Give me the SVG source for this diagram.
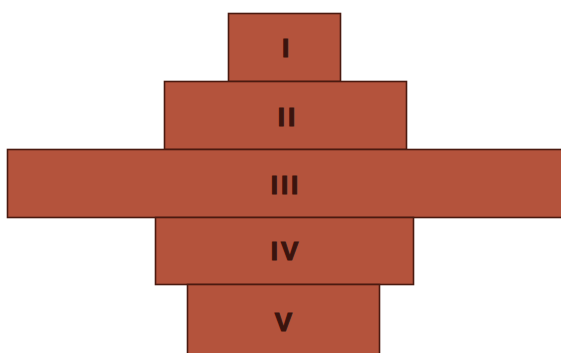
<svg xmlns="http://www.w3.org/2000/svg" width="561" height="353" viewBox="0 0 561 353">
<style>
.box{fill:#b4533c;stroke:#4a1a10;stroke-width:1.6}
.lbl{font-family:"Liberation Sans",Arial,sans-serif;font-weight:bold;font-size:26px;fill:#3a140e;stroke:#3a140e;stroke-width:1.1;text-anchor:middle;letter-spacing:3px}
</style>
<rect width="561" height="353" fill="#ffffff"/>
<g id="node-I"><rect class="box" x="228.5" y="13.5" width="112" height="68"/><text class="lbl" x="287" y="56.5">I</text></g>
<g id="node-II"><rect class="box" x="164.5" y="81.5" width="242" height="68"/><text class="lbl" x="288" y="125.5">II</text></g>
<g id="node-III"><rect class="box" x="7.5" y="149.5" width="560" height="68"/><text class="lbl" x="286" y="193.5">III</text></g>
<g id="node-IV"><rect class="box" x="155.5" y="217.5" width="258" height="67"/><text class="lbl" x="286" y="259.5">IV</text></g>
<g id="node-V"><rect class="box" x="187.5" y="284.5" width="192" height="75"/><text class="lbl" x="285" y="330.5">V</text></g>
<g id="connectors"></g>
</svg>
